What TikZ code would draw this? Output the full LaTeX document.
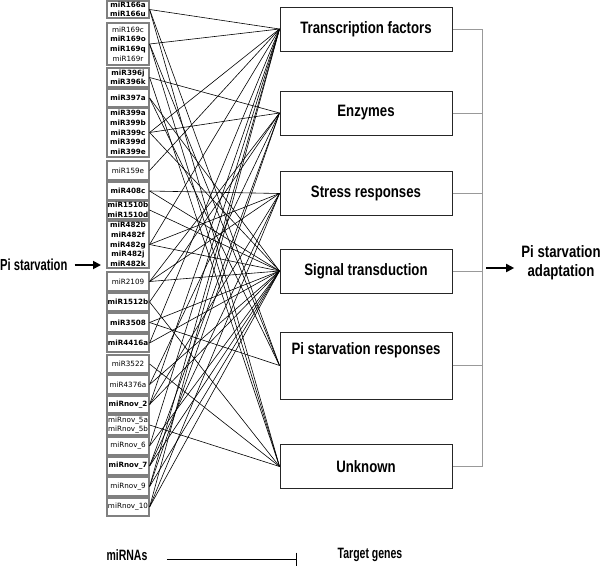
\documentclass[tikz,border=0pt]{standalone}
\usepackage{fontspec}
\setmainfont{Liberation Sans}
\newfontfamily\mirfont{DejaVu Sans}
\newfontfamily\narrowfont[FakeStretch=0.8]{Liberation Sans}
\newfontfamily\legendfont[FakeStretch=0.7]{Liberation Sans}
\usetikzlibrary{arrows.meta}
\begin{document}
\begin{tikzpicture}[x=1pt, y=-1pt,
    mirbox/.style={draw=gray, line width=1.2pt, minimum width=42pt, inner sep=0.5pt,
        align=center, font=\mirfont\fontsize{7.2}{9.6}\selectfont},
    genebox/.style={draw=black!85, line width=1pt, minimum width=172pt, minimum height=44pt,
        font=\narrowfont\bfseries\fontsize{16.5}{19}\selectfont},
    bigtext/.style={font=\narrowfont\bfseries\fontsize{16.5}{19}\selectfont, align=center},
    legend/.style={font=\legendfont\bfseries\fontsize{15}{17}\selectfont},
    link/.style={line width=0.6pt},
    bracket/.style={gray!80, line width=1pt},
    fat/.style={line width=1.8pt, -{Triangle[length=8pt, width=8pt]}}]
    \useasboundingbox (0,0) rectangle (600,568);

    \foreach \n/\y/\h/\t in {
        m166/9.5/17/{\textbf{miR166a}\\\textbf{miR166u}},
        m169/44/42/{miR169c\\\textbf{miR169o}\\\textbf{miR169q}\\miR169r},
        m396/77.5/19/{\textbf{miR396j}\\\textbf{miR396k}},
        m397/98/18/{\textbf{miR397a}},
        m399/132.5/49/{\textbf{miR399a}\\\textbf{miR399b}\\\textbf{miR399c}\\\textbf{miR399d}\\\textbf{miR399e}},
        m159/170.5/19/{miR159e},
        m408/191/18/{\textbf{miR408c}},
        m1510/210/18/{\textbf{miR1510b}\\\textbf{miR1510d}},
        m482/244.5/47/{\textbf{miR482b}\\\textbf{miR482f}\\\textbf{miR482g}\\\textbf{miR482j}\\\textbf{miR482k}},
        m2109/281.5/19/{miR2109},
        m1512/302/18/{\textbf{miR1512b}},
        m3508/322.5/19/{\textbf{miR3508}},
        m4416/343/18/{\textbf{miR4416a}},
        m3522/364/18/{miR3522},
        m4376/384.5/19/{miR4376a},
        mn2/404.5/17/{\textbf{miRnov\_2}},
        mn5/425/20/{miRnov\_5a\\miRnov\_5b},
        mn6/446/18/{miRnov\_6},
        mn7/466/18/{\textbf{miRnov\_7}},
        mn9/486.5/19/{miRnov\_9},
        mn10/507/18/{miRnov\_10}} {
        \node[mirbox, minimum height=\h] (\n) at (128,\y) {\t};
    }

    \node[genebox] (tf) at (366,29) {Transcription factors};
    \node[genebox] (enz) at (366,113) {Enzymes};
    \node[genebox] (stress) at (366,193.5) {Stress responses};
    \node[genebox] (signal) at (366,271) {Signal transduction};
    \node[genebox, minimum height=67pt, text height=11.5pt, text depth=34.5pt] (pisr) at (366,365.5) {Pi starvation responses};
    \node[genebox] (unk) at (366,466.5) {Unknown};

    \foreach \a/\b in {m166/tf, m166/pisr, m166/unk, m169/tf, m169/pisr, m169/unk,
        m396/enz, m396/unk, m397/signal, m397/pisr, m399/tf, m399/enz, m399/signal,
        m159/tf, m408/stress, m408/signal, m1510/signal, m482/tf, m482/stress, m482/signal,
        m2109/enz, m2109/stress, m2109/signal, m1512/enz, m1512/unk, m3508/signal, m3508/pisr,
        m4416/tf, m4416/signal, m3522/unk, m4376/enz, m4376/signal,
        mn2/tf, mn2/stress, mn2/signal, mn5/unk, mn6/tf, mn6/signal,
        mn7/enz, mn7/stress, mn7/signal, mn9/tf, mn9/enz, mn9/signal,
        mn10/tf, mn10/stress, mn10/signal}
        \draw[link] (\a.east) -- (\b.west);

    \coordinate (rail) at (482,0);
    \draw[bracket] (tf.east) -| (rail |- unk.east) -- (unk.east);
    \foreach \g in {enz, stress, signal, pisr}
        \draw[bracket] (\g.east) -- (\g.east -| rail);

    \node[anchor=west, inner sep=0pt, font=\legendfont\bfseries\fontsize{16}{18}\selectfont] (starv) at (0,265) {Pi starvation};
    \coordinate (inp) at (101,265);
    \draw[fat, shorten <=7pt] (starv.east) -- (inp);

    \node[bigtext, inner sep=2pt] (adapt) at (561,263) {Pi starvation\\adaptation};
    \coordinate (out) at (486,268);
    \draw[fat, shorten >=5pt] (out) -- (adapt.west |- out);

    \node[legend] (mirnas) at (127,555) {miRNAs};
    \node[legend] (genes) at (370,555) {Target genes};
    \draw[line width=1pt, -{Bar[width=13pt]}, shorten <=16pt, shorten >=37pt]
        ([yshift=-4pt]mirnas.east) -- ([yshift=-4pt]genes.west);
\end{tikzpicture}
\end{document}
